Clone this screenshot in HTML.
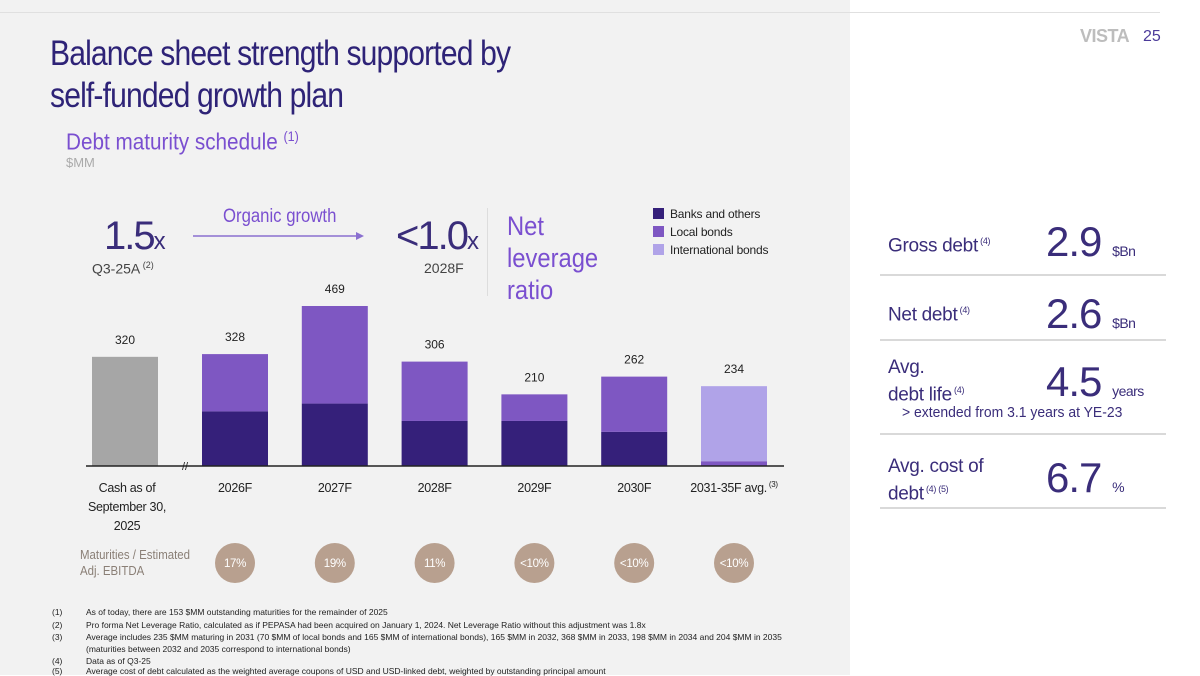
<!DOCTYPE html>
<html><head><meta charset="utf-8">
<style>
*{margin:0;padding:0;box-sizing:border-box}
body{width:1200px;height:675px;overflow:hidden;background:#fff;font-family:"Liberation Sans",sans-serif;position:relative;color:#222}
.abs{position:absolute}
#bg{left:0;top:0;width:850px;height:675px;background:#f2f2f2}
.sup{font-size:9px;vertical-align:super}
.hr{height:2px;background:#d9d9d9;left:880px;width:286px}
.lbl{font-size:19px;color:#3a2d7a;left:888px;line-height:23px;letter-spacing:-0.3px}
.val{font-size:42px;color:#3a2d7a;left:1046px;letter-spacing:-1px}
.unit{font-size:14px;color:#3a2d7a;letter-spacing:-0.5px}
.fn{left:52px;font-size:8.5px;color:#222;white-space:nowrap}
.fn span{position:absolute;left:34px}
</style></head><body>
<div id="bg" class="abs"></div>
<div class="abs" style="left:0;top:12px;width:1160px;height:1px;background:#e0e0e0"></div>
<div class="abs" style="left:1080px;top:26px;font-size:18px;color:#bdbdbd;font-weight:bold;letter-spacing:-0.5px">VISTA</div>
<div class="abs" style="left:1143px;top:28px;font-size:16px;color:#4b3a9a">25</div>
<div class="abs" style="left:50px;top:33px;font-size:35px;line-height:42px;color:#2e2377;letter-spacing:-1px;white-space:nowrap;transform:scaleX(0.86);transform-origin:left top">Balance sheet strength supported by<br>self-funded growth plan</div>
<div class="abs" style="left:66px;top:128px;font-size:23px;color:#7a4fd0;white-space:nowrap;transform:scaleX(0.9);transform-origin:left top">Debt maturity schedule <span style="font-size:14px;vertical-align:super">(1)</span></div>
<div class="abs" style="left:66px;top:155px;font-size:13px;color:#aaa">$MM</div>

<div class="abs" style="left:104px;top:214px;font-size:40px;color:#3a2d7a;letter-spacing:-2px">1.5<span style="font-size:24px">x</span></div>
<div class="abs" style="left:92px;top:260px;font-size:14px;color:#444">Q3-25A<span class="sup"> (2)</span></div>
<div class="abs" style="left:223px;top:206px;font-size:19px;color:#7a4fd0;white-space:nowrap;transform:scaleX(0.88);transform-origin:left top">Organic growth</div>
<svg class="abs" style="left:190px;top:230px" width="180" height="12"><line x1="3" y1="6" x2="168" y2="6" stroke="#8a70d0" stroke-width="1.5"/><polygon points="166,2 174,6 166,10" fill="#8a70d0"/></svg>
<div class="abs" style="left:396px;top:214px;font-size:40px;color:#3a2d7a;letter-spacing:-2px">&lt;1.0<span style="font-size:24px">x</span></div>
<div class="abs" style="left:424px;top:260px;font-size:14px;color:#444">2028F</div>
<div class="abs" style="left:487px;top:208px;width:1px;height:88px;background:#ddd"></div>
<div class="abs" style="left:507px;top:210px;font-size:27px;line-height:32px;color:#7a4fd0;transform:scaleX(0.88);transform-origin:left top">Net<br>leverage<br>ratio</div>

<div class="abs" style="left:653px;top:205px;font-size:12px;line-height:18px;color:#222;letter-spacing:-0.2px">
<div><span style="display:inline-block;width:11px;height:11px;background:#35207a;margin-right:6px;vertical-align:-1px"></span>Banks and others</div>
<div><span style="display:inline-block;width:11px;height:11px;background:#7e57c2;margin-right:6px;vertical-align:-1px"></span>Local bonds</div>
<div><span style="display:inline-block;width:11px;height:11px;background:#b0a3e8;margin-right:6px;vertical-align:-1px"></span>International bonds</div>
</div>

<svg id="chart" class="abs" style="left:0;top:0" width="850" height="600"></svg>

<div class="abs" style="left:80px;top:547px;font-size:13px;line-height:16px;color:#8a7f76;white-space:nowrap;transform:scaleX(0.88);transform-origin:left top">Maturities / Estimated<br>Adj. EBITDA</div>

<div class="abs lbl" style="top:230px">Gross debt<span class="sup"> (4)</span></div>
<div class="abs val" style="top:218px">2.9 <span class="unit">$Bn</span></div>
<div class="abs hr" style="top:274px"></div>
<div class="abs lbl" style="top:299px">Net debt<span class="sup"> (4)</span></div>
<div class="abs val" style="top:290px">2.6 <span class="unit">$Bn</span></div>
<div class="abs hr" style="top:339px"></div>
<div class="abs lbl" style="top:356px">Avg.<br>debt life<span class="sup"> (4)</span></div>
<div class="abs val" style="top:358px">4.5 <span class="unit">years</span></div>
<div class="abs" style="left:902px;top:404px;font-size:15px;color:#3a2d7a;white-space:nowrap;transform:scaleX(0.93);transform-origin:left top">&gt; extended from 3.1 years at YE-23</div>
<div class="abs hr" style="top:433px"></div>
<div class="abs lbl" style="top:455px">Avg. cost of<br>debt<span class="sup"> (4) (5)</span></div>
<div class="abs val" style="top:454px">6.7 <span class="unit">%</span></div>
<div class="abs hr" style="top:507px"></div>

<div class="abs fn" style="top:607px">(1)<span>As of today, there are 153 $MM outstanding maturities for the remainder of 2025</span></div>
<div class="abs fn" style="top:620px">(2)<span>Pro forma Net Leverage Ratio, calculated as if PEPASA had been acquired on January 1, 2024. Net Leverage Ratio without this adjustment was 1.8x</span></div>
<div class="abs fn" style="top:632px">(3)<span>Average includes 235 $MM maturing in 2031 (70 $MM of local bonds and 165 $MM of international bonds), 165 $MM in 2032, 368 $MM in 2033, 198 $MM in 2034 and 204 $MM in 2035</span></div>
<div class="abs fn" style="top:644px"><span>(maturities between 2032 and 2035 correspond to international bonds)</span></div>
<div class="abs fn" style="top:656px">(4)<span>Data as of Q3-25</span></div>
<div class="abs fn" style="top:666px">(5)<span>Average cost of debt calculated as the weighted average coupons of USD and USD-linked debt, weighted by outstanding principal amount</span></div>

<script>
const categories = ["Cash as of|September 30,|2025","2026F","2027F","2028F","2029F","2030F","2031-35F avg."];
const cash = [320,0,0,0,0,0,0];
const banks = [0,160,183,132,132,100,0];
const localBonds = [0,168,286,174,78,162,14];
const intlBonds = [0,0,0,0,0,0,220];
const totals = [320,328,469,306,210,262,234];
const ratios = ["","17%","19%","11%","<10%","<10%","<10%"];

const svg = document.getElementById('chart');
const NS = 'http://www.w3.org/2000/svg';
const FONT = 'Liberation Sans, sans-serif';
const baseY = 466, scale = 160/469, bw = 66;
const xc = i => i===0 ? 125 : 235 + (i-1)*99.8;
const y = v => baseY - v*scale;
function mk(tag, attrs){const e=document.createElementNS(NS,tag);for(const k in attrs)e.setAttribute(k,attrs[k]);svg.appendChild(e);return e;}
categories.forEach((c,i)=>{
  let acc=0;
  const w = i===0 ? 66 : bw;
  const segs=[[cash[i],'#a6a6a6','cash'],[banks[i],'#35207a','banks'],[localBonds[i],'#7e57c2','local-bonds'],[intlBonds[i],'#b0a3e8','international-bonds']];
  segs.forEach(([v,col,nm])=>{
    if(!v) return;
    const r=mk('rect',{x:xc(i)-w/2,y:y(acc+v),width:w,height:v*scale,fill:col});
    
    
    acc+=v;
  });
  const t=mk('text',{x:xc(i),y:y(totals[i])-13,'text-anchor':'middle','font-size':12,fill:'#222','font-family':FONT});
  t.textContent=totals[i];
  
  
  const lines=c.split('|');
  lines.forEach((ln,j)=>{
    const l=mk('text',{x:xc(i)+(i===0?2:0),y:492+j*19,'text-anchor':'middle','font-size':12.5,fill:'#222','font-family':FONT,'letter-spacing':'-0.3'});
    l.textContent=ln;
    if(i===6&&j===0){const s=document.createElementNS(NS,'tspan');s.setAttribute('font-size','8');s.setAttribute('dy','-5');s.textContent=' (3)';l.appendChild(s);}
    
    
  });
  if(ratios[i]){
    const ci=mk('circle',{cx:xc(i),cy:563,r:20,fill:'#b8a08f'});
    
    
    const rt=mk('text',{x:xc(i),y:567,'text-anchor':'middle','font-size':11.5,fill:'#fff','font-family':FONT,'letter-spacing':'-0.3'});
    rt.textContent=ratios[i];
    
    
  }
});
const ax=mk('line',{x1:86,y1:baseY,x2:784,y2:baseY,stroke:'#222','stroke-width':1.5});


const br=mk('text',{x:185,y:470,'text-anchor':'middle','font-size':11,fill:'#222'});
br.textContent='//';


</script>
</body></html>
